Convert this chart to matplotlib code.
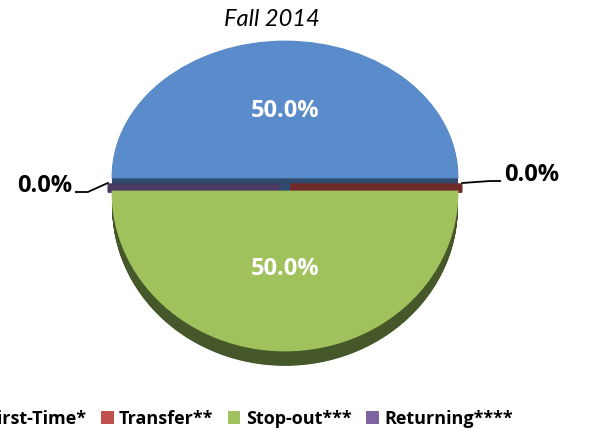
import numpy as np
import matplotlib.pyplot as plt
from matplotlib.patches import Patch
from matplotlib.lines import Line2D
from matplotlib.transforms import IdentityTransform

# chart data
title = 'Fall 2014'
labels = ['First-Time*', 'Transfer**', 'Stop-out***', 'Returning****']
values = [50.0, 0.0, 50.0, 0.0]
top_colors = ['#5a8bca', '#c0504d', '#a0c15c', '#8064a2']
wall_colors = ['#2e4a6d', '#6f2b2a', '#46572a', '#4a3a62']

W, H = 603, 434
cx, cy = 285, 177        # pie centre in px
rx = 172                 # horizontal radius, px
ry_back, ry_front = 135, 158   # vertical radius behind / in front (fake perspective)
gap_px, depth_px = 15, 15

explode = [0.0, 0.03, gap_px / ry_front, 0.03]
depth = depth_px / ry_front
layers = 40

plt.rcParams['font.family'] = ['Open Sans', 'DejaVu Sans']
fig = plt.figure(figsize=(W / 100, H / 100), dpi=100)
ax = fig.add_axes([0, 0, 1, 1])


def draw_pie(offset, colors, edges, lw, **kw):
    out = ax.pie(values, explode=explode, colors=colors, startangle=180,
                 counterclock=False, center=(0, -offset),
                 wedgeprops=dict(linewidth=lw), **kw)
    for w, ec in zip(out[0], edges):
        w.set_edgecolor(ec)
    return out


# side walls of the big slices, deepest first
big = [c if v > 0 else 'none' for c, v in zip(wall_colors, values)]
for off in np.linspace(depth, 0, layers):
    draw_pie(off, big, big, 1.2)

# cut faces of the empty slices, lower half of the gap
small = [c if v == 0 else 'none' for c, v in zip(wall_colors, values)]
gap = explode[2]
for off in np.linspace(gap, gap * 0.48, layers // 2):
    draw_pie(off, small, small, 1.2)

# top faces
top_edges = [c if v > 0 else 'none' for c, v in zip(top_colors, values)]
wedges, texts, autotexts = draw_pie(
    0, top_colors, top_edges, 2.0,
    autopct=lambda p: f'{p:.1f}%' if p > 0 else '', pctdistance=0.49,
    textprops=dict(color='white', fontsize=17, fontweight='bold'))


def fwd(y):
    y = np.asarray(y, float)
    return np.where(y >= 0, y * ry_back, y * ry_front)


def inv(z):
    z = np.asarray(z, float)
    return np.where(z >= 0, z / ry_back, z / ry_front)


ax.set_aspect('auto')
ax.set_yscale('function', functions=(fwd, inv))
ax.set_xlim(-cx / rx, (W - cx) / rx)
ax.set_ylim(-(H - cy) / ry_front, cy / ry_back)
ax.axis('off')

# leader lines for the zero slices, offsets in px from the slice tip (x right, y down)
leaders = {1: [(0, 6), (28, 4), (38, 4)], 3: [(0, 6), (-20, 15), (-32, 15)]}
for i, pts in leaders.items():
    w = wedges[i]
    a = np.deg2rad(w.theta1)
    tip = ax.transData.transform((w.center[0] + w.r * np.cos(a),
                                  w.center[1] + w.r * np.sin(a)))
    xs = [tip[0] + ox for ox, oy in pts]
    ys = [tip[1] - oy for ox, oy in pts]
    fig.add_artist(Line2D(xs, ys, color='black', lw=1.3,
                          transform=IdentityTransform()))
    side = 1 if np.cos(a) > 0 else -1
    fig.text(xs[-1] + side * 4, ys[-1], f'{values[i]:.1f}%',
             transform=IdentityTransform(), ha='left' if side > 0 else 'right',
             va='baseline', fontsize=17, fontweight='bold', color='black')

fig.text(272 / W, 1 - 19 / H, title, style='italic', fontsize=17,
         family='Lato', ha='center', va='center')

handles = [Patch(facecolor=c, edgecolor='none') for c in top_colors]
fig.legend(handles, labels, loc='center', bbox_to_anchor=(241 / W, 1 - 419 / H),
           ncol=4, frameon=False, prop=dict(size=13, weight='bold'),
           handlelength=0.7, handleheight=0.7, handletextpad=0.3,
           columnspacing=0.8)

fig.savefig('out.png', dpi=100)
